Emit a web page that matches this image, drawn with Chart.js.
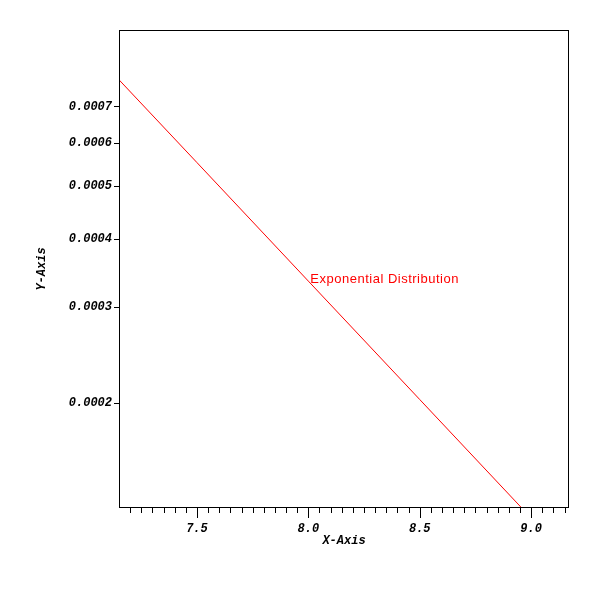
<!DOCTYPE html>
<html>
<head>
<meta charset="utf-8">
<script src="https://cdn.jsdelivr.net/npm/chart.js@4"></script>
<style>
html,body{margin:0;padding:0;background:#fff;}
canvas{display:block;}
</style>
</head>
<body>
<canvas id="c" width="600" height="600"></canvas>
<script>
// Data
const xValues = [7.15, 7.5, 8.0, 8.5, 9.0, 9.17];
const yValues = [0.000785, 0.000553, 0.000335, 0.000203, 0.000123, 0.000104];
const yTicks = [0.0002, 0.0003, 0.0004, 0.0005, 0.0006, 0.0007];
const xMajorTicks = [7.5, 8.0, 8.5, 9.0];
const seriesLabel = 'Exponential Distribution';
const labelAt = [8.0, 0.000335];
const xRange = [7.15, 9.17];
const yRange = [0.0001283, 0.000969];

const monoFont = {family: '"Liberation Mono", "Courier New", monospace', size: 12, style: 'italic', weight: 'bold'};

function isMajor(v) {
  return xMajorTicks.some(m => Math.abs(m - v) < 1e-6);
}

const decorPlugin = {
  id: 'decor',
  afterDatasetsDraw(chart) {
    const ctx = chart.ctx;
    const a = chart.chartArea;
    const xs = chart.scales.x;
    const ys = chart.scales.y;
    ctx.save();
    // frame
    ctx.strokeStyle = '#000';
    ctx.lineWidth = 1;
    ctx.strokeRect(Math.round(a.left) + 0.5, Math.round(a.top) + 0.5, Math.round(a.right - a.left) - 1, Math.round(a.bottom - a.top) - 1);
    // x tick marks (major + minor)
    ctx.beginPath();
    xs.ticks.forEach(t => {
      const px = Math.round(xs.getPixelForValue(t.value)) + 0.5;
      const len = isMajor(t.value) ? 10 : 5;
      ctx.moveTo(px, a.bottom);
      ctx.lineTo(px, a.bottom + len);
    });
    ctx.stroke();
    // series label
    const px = xs.getPixelForValue(labelAt[0]);
    const py = ys.getPixelForValue(labelAt[1]);
    ctx.fillStyle = 'rgb(255,0,0)';
    ctx.font = '13px "Liberation Sans", Arial, sans-serif';
    try { ctx.letterSpacing = '0.5px'; } catch (e) {}
    ctx.textBaseline = 'alphabetic';
    ctx.textAlign = 'left';
    ctx.fillText(seriesLabel, px + 2, py + 2);
    ctx.restore();
  }
};

new Chart(document.getElementById('c'), {
  type: 'line',
  data: {
    datasets: [{
      label: seriesLabel,
      data: xValues.map((x, i) => ({x: x, y: yValues[i]})),
      borderColor: 'rgb(255,0,0)',
      borderWidth: 1,
      pointRadius: 0,
      fill: false,
      tension: 0
    }]
  },
  options: {
    responsive: false,
    animation: false,
    layout: {padding: {left: 31, top: 30, right: 31, bottom: 48}},
    plugins: {legend: {display: false}, tooltip: {enabled: false}},
    scales: {
      x: {
        type: 'linear',
        min: xRange[0],
        max: xRange[1],
        afterBuildTicks(scale) {
          const t = [];
          for (let i = 0; ; i++) {
            const v = Math.round((7.2 + i * 0.05) * 100) / 100;
            if (v > xRange[1]) break;
            t.push({value: v});
          }
          scale.ticks = t;
        },
        afterFit(scale) { scale.height = 44; },
        grid: {display: true, drawOnChartArea: false, drawTicks: true, tickLength: 10, tickColor: 'rgba(0,0,0,0)'},
        border: {display: false},
        ticks: {
          autoSkip: false,
          maxRotation: 0,
          padding: 4,
          color: '#000',
          font: monoFont,
          callback: (v) => isMajor(v) ? Number(v).toFixed(1) : ''
        },
        title: {display: true, text: 'X-Axis', color: '#000', font: monoFont}
      },
      y: {
        type: 'logarithmic',
        min: yRange[0],
        max: yRange[1],
        afterBuildTicks(scale) {
          scale.ticks = yTicks.map(v => ({value: v}));
        },
        afterFit(scale) { scale.width = 88; },
        grid: {display: true, drawOnChartArea: false, drawTicks: true, tickLength: 5, tickColor: '#000'},
        border: {display: false},
        ticks: {
          autoSkip: false,
          padding: 2,
          color: '#000',
          font: monoFont,
          callback: (v) => Number(v).toFixed(4)
        },
        title: {display: true, text: 'Y-Axis', color: '#000', font: monoFont}
      }
    }
  },
  plugins: [decorPlugin]
});
</script>
</body>
</html>
